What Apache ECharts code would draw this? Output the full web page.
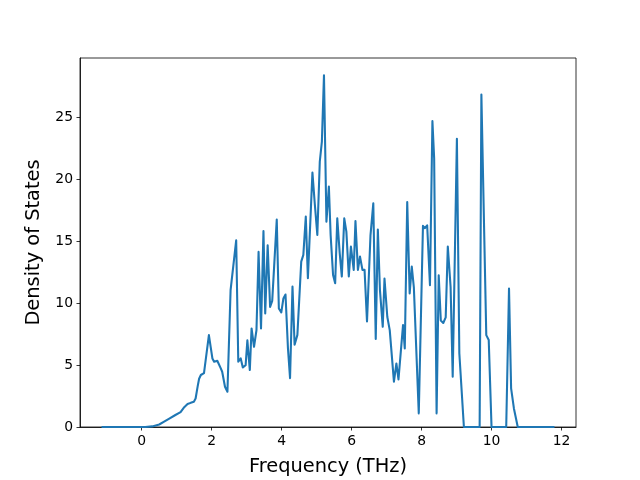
<!DOCTYPE html>
<html>
<head>
<meta charset="utf-8">
<script src="https://cdn.jsdelivr.net/npm/echarts@6/dist/echarts.min.js"></script>
<style>
  html, body { margin: 0; padding: 0; background: #fff; }
  #chart { width: 640px; height: 480px; }
</style>
</head>
<body>
<div id="chart"></div>
<script>
// Phonon density of states
const freq = [
  -1.12, 0.1, 0.3, 0.5, 0.64, 0.8, 0.95, 1.11, 1.2, 1.31, 1.4, 1.49, 1.54, 1.6, 1.64, 1.69, 1.78,
  1.92, 2.02, 2.07, 2.16, 2.26, 2.30, 2.38, 2.45, 2.54, 2.70, 2.76, 2.83, 2.89, 2.97,
  3.02, 3.09, 3.14, 3.21, 3.28, 3.34, 3.41, 3.48, 3.53, 3.60, 3.67, 3.73, 3.86, 3.92, 3.99,
  4.05, 4.11, 4.18, 4.24, 4.31, 4.37, 4.45, 4.56, 4.62, 4.69, 4.75, 4.88, 4.95,
  5.02, 5.09, 5.15, 5.21, 5.28, 5.35, 5.40, 5.47, 5.53, 5.59, 5.66, 5.72, 5.79, 5.85, 5.92, 5.98,
  6.06, 6.11, 6.18, 6.24, 6.31, 6.37, 6.44, 6.54, 6.62, 6.69, 6.75, 6.81, 6.89, 6.94,
  7.02, 7.09, 7.14, 7.21, 7.28, 7.34, 7.47, 7.52, 7.59, 7.66, 7.72, 7.78, 7.92,
  8.04, 8.09, 8.16, 8.24, 8.31, 8.36, 8.43, 8.49, 8.55, 8.62, 8.69, 8.75, 8.83, 8.89,
  9.01, 9.08, 9.21, 9.66, 9.71, 9.85, 9.92, 10.0, 10.42, 10.5, 10.56, 10.64, 10.75, 11.77
];
const dos = [
  0, 0, 0.05, 0.2, 0.43, 0.7, 0.95, 1.2, 1.55, 1.85, 1.95, 2.04, 2.3, 3.3, 3.9, 4.2, 4.35,
  7.42, 5.54, 5.27, 5.35, 4.73, 4.46, 3.25, 2.85, 11.05, 15.08, 5.27, 5.54, 4.81, 5.0,
  7.0, 4.6, 7.96, 6.48, 7.82, 14.14, 7.96, 15.83, 9.17, 14.68, 9.7, 10.19, 16.75, 9.57, 9.25,
  10.38, 10.7, 6.37, 3.95, 11.35, 6.64, 7.44, 13.36, 13.9, 17.0, 12.02, 20.54, 17.93,
  15.51, 21.42, 23.04, 28.41, 16.58, 19.41, 15.51, 12.28, 11.61, 16.85, 14.03, 12.15, 16.85, 15.78, 12.15, 14.57,
  12.69, 16.64, 12.69, 13.76, 12.69, 12.69, 8.52, 15.5, 18.06, 7.1, 15.95, 11.05, 8.09, 11.99,
  8.9, 7.82, 7.69, 3.66, 5.13, 3.84, 8.23, 6.34, 18.17, 10.78, 12.95, 11.25, 1.1,
  16.25, 16.05, 16.29, 11.45, 24.7, 21.67, 1.1, 12.26, 8.6, 8.4, 8.85, 14.57, 11.31, 4.06,
  23.28, 5.94, 0, 0, 26.85, 7.42, 7.02, 0, 0, 11.18, 3.12, 1.5, 0, 0
];
const xTicks = [0, 2, 4, 6, 8, 10, 12];
const yTicks = [0, 5, 10, 15, 20, 25];

const points = freq.map((f, i) => [f, dos[i]]);

const chart = echarts.init(document.getElementById('chart'), null, { renderer: 'canvas' });
const font = 'DejaVu Sans';

chart.setOption({
  animation: false,
  backgroundColor: '#fff',
  textStyle: { fontFamily: font },
  grid: {
    left: 80, right: 64, top: 58, bottom: 53,
    outerBoundsMode: 'none',
    containLabel: false,
    show: true, borderColor: '#000', borderWidth: 0.8, backgroundColor: 'transparent'
  },
  xAxis: {
    type: 'value',
    min: -1.765,
    max: 12.415,
    name: 'Frequency (THz)',
    nameLocation: 'middle',
    nameGap: 30,
    nameTextStyle: { fontSize: 19.4, color: '#000', fontFamily: font },
    axisLine: { show: true, onZero: false, lineStyle: { color: '#000', width: 0.8 } },
    axisTick: { show: true, inside: false, length: 3.5, lineStyle: { color: '#000', width: 0.8 }, customValues: xTicks },
    axisLabel: { color: '#000', fontSize: 13.9, margin: 7, fontFamily: font, customValues: xTicks },
    splitLine: { show: false }
  },
  yAxis: {
    type: 'value',
    min: 0,
    max: 29.8,
    name: 'Density of States',
    nameLocation: 'middle',
    nameGap: 37,
    nameTextStyle: { fontSize: 19.4, color: '#000', fontFamily: font },
    axisLine: { show: true, onZero: false, lineStyle: { color: '#000', width: 0.8 } },
    axisTick: { show: true, inside: false, length: 3.5, lineStyle: { color: '#000', width: 0.8 }, customValues: yTicks },
    axisLabel: { color: '#000', fontSize: 13.9, margin: 7, fontFamily: font, customValues: yTicks },
    splitLine: { show: false }
  },
  series: [{
    type: 'line',
    data: points,
    showSymbol: false,
    symbol: 'none',
    lineStyle: { color: '#1f77b4', width: 2.08, join: 'round', cap: 'square' },
    clip: true
  }]
});
</script>
</body>
</html>
